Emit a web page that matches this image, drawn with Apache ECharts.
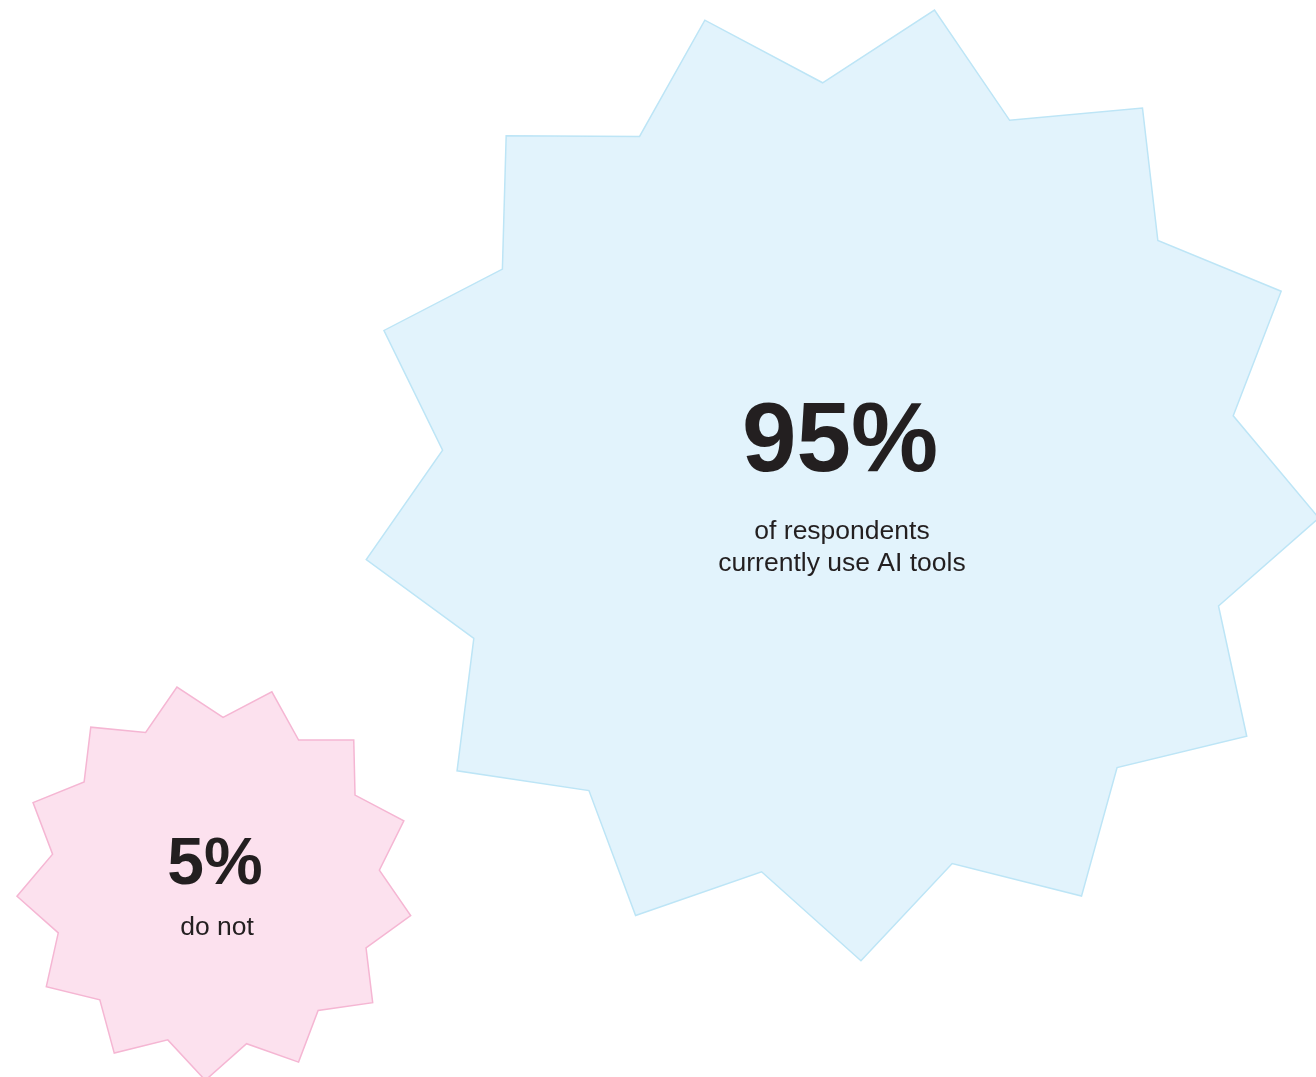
<!DOCTYPE html>
<html>
<head>
<meta charset="utf-8">
<style>
  html, body { margin: 0; padding: 0; background: #ffffff; }
  #chart { width: 1316px; height: 1077px; }
</style>
<script src="https://cdn.jsdelivr.net/npm/echarts@6/dist/echarts.min.js"></script>
</head>
<body>
<div id="chart"></div>
<script>
// Survey result: share of respondents using AI tools
const groups = ['use', 'do not use'];
const shares = [95, 5];
const captions = ['of respondents\ncurrently use AI tools', 'do not'];

// Layout of each burst on the canvas (pixel space of the hidden axes)
const centerX = [840, 215];
const centerY = [481, 882];
const startAngle = [87.5, 92.8];      // degrees, direction of the first spike
const fills = ['#e2f3fc', '#fce1ee'];
const strokes = ['#bde5f6', '#f5b6d3'];
const valueFont = [98, 66];
const captionFont = [26.5, 26.5];
const valueOffset = [-37, -16];
const captionOffset = [67, 46];

const SPIKES = 13;
const INNER_RATIO = 0.83;
// burst radius grows with the share (compressed power scale)
const radiusOf = v => 122.5 * Math.pow(v, 0.3);

const data = groups.map((g, i) => ({
  name: g,
  value: [centerX[i], centerY[i], shares[i], i]
}));

const chart = echarts.init(document.getElementById('chart'), null, { renderer: 'canvas' });

chart.setOption({
  animation: false,
  grid: { left: 0, right: 0, top: 0, bottom: 0 },
  xAxis: { type: 'value', min: 0, max: 1316, show: false },
  yAxis: { type: 'value', min: 0, max: 1077, inverse: true, show: false },
  series: [{
    type: 'custom',
    coordinateSystem: 'cartesian2d',
    data: data,
    renderItem: function (params, api) {
      const i = api.value(3);
      const v = api.value(2);
      const c = api.coord([api.value(0), api.value(1)]);
      const rOut = api.size([radiusOf(v), 0])[0];
      const rIn = rOut * INNER_RATIO;
      const pts = [];
      const step = Math.PI * 2 / SPIKES;
      const a0 = startAngle[i] * Math.PI / 180;
      for (let k = 0; k < SPIKES; k++) {
        const a = a0 + k * step;
        pts.push([c[0] + rOut * Math.cos(a), c[1] + rOut * Math.sin(a)]);
        const b = a + step / 2;
        pts.push([c[0] + rIn * Math.cos(b), c[1] + rIn * Math.sin(b)]);
      }
      return {
        type: 'group',
        children: [
          {
            type: 'polygon',
            shape: { points: pts },
            style: { fill: fills[i], stroke: strokes[i], lineWidth: 1.5 }
          },
          {
            type: 'text',
            x: c[0],
            y: c[1] + valueOffset[i],
            style: {
              text: v + '%',
              fontFamily: '"Liberation Sans", Arial, sans-serif',
              fontWeight: 'bold',
              fontSize: valueFont[i],
              fill: '#231f20',
              align: 'center',
              verticalAlign: 'middle'
            }
          },
          {
            type: 'text',
            x: c[0] + 2,
            y: c[1] + captionOffset[i],
            style: {
              text: captions[i],
              fontFamily: '"Liberation Sans", Arial, sans-serif',
              fontSize: captionFont[i],
              lineHeight: 32,
              fill: '#231f20',
              align: 'center',
              verticalAlign: 'middle'
            }
          }
        ]
      };
    }
  }]
});
</script>
</body>
</html>
